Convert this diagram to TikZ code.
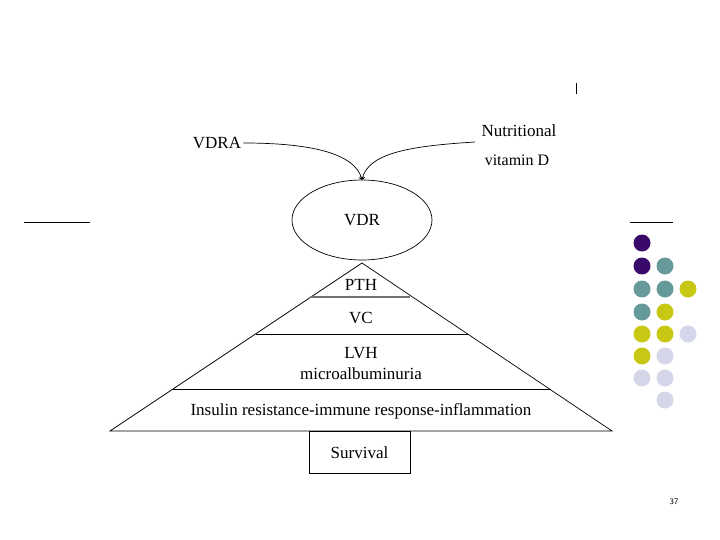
\documentclass[tikz,border=0pt]{standalone}
\usepackage{fontspec}
\setmainfont{Liberation Serif}
\usetikzlibrary{arrows.meta,shapes.geometric}
\definecolor{dpurple}{HTML}{3A0A6A}
\definecolor{dteal}{HTML}{669A9A}
\definecolor{dyellow}{HTML}{C8C814}
\definecolor{dlav}{HTML}{D6D6EA}
\tikzset{
  lbl/.style={font=\fontsize{17}{19}\selectfont, inner sep=0pt},
  rule/.style={line width=0.8pt},
  edge/.style={line width=0.7pt},
  dot/.style={circle, minimum size=17pt, inner sep=0pt, fill=#1}
}
\begin{document}
\begin{tikzpicture}[x=1pt,y=-1pt]
\useasboundingbox (0,0) rectangle (720,540);
% decorative rules
\coordinate (l1) at (24,222); \coordinate (l2) at (90,222);
\coordinate (r1) at (630,222); \coordinate (r2) at (673,222);
\draw[rule] (l1) -- (l2);
\draw[rule] (r1) -- (r2);
\coordinate (t1) at (576,83); \coordinate (t2) at (576,94);
\draw[line width=0.9pt] (t1) -- (t2);
% dots
\foreach \c/\x/\y in {dpurple/642/243, dpurple/642/266, dteal/665/266,
  dteal/642/289, dteal/665/289, dyellow/688/289,
  dteal/642/312, dyellow/665/312,
  dyellow/642/334, dyellow/665/334, dlav/688/334,
  dyellow/642/356, dlav/665/356,
  dlav/642/378, dlav/665/378,
  dlav/665/400}
  \node[dot=\c] at (\x,\y) {};
% top labels
\node[lbl] (vdra) at (217,143) {VDRA};
\node[lbl] (nut) at (519,131) {Nutritional};
\node[lbl, font=\fontsize{16}{18}\selectfont] (vitd) at (517,160) {vitamin D};
\node[draw, ellipse, edge, minimum width=140pt, minimum height=80pt, inner sep=0pt] (vdr) at (362,220) {};
\node[lbl] at (vdr) {VDR};
\coordinate (nutend) at (475,142);
\draw[edge, -{To[length=3pt,width=5pt]}] (vdra.east) ++(2,0) .. controls (310,143) and (355,153) .. (vdr.north);
\draw[edge, -{To[length=3pt,width=5pt]}] (nutend) .. controls (410,146) and (368,153) .. (vdr.north);
% pyramid
\coordinate (apex) at (362,263);
\coordinate (bl) at (110,431);
\coordinate (br) at (612,431);
\draw[edge] (bl) -- (apex) -- (br) -- cycle;
\coordinate (p1) at (310,297); \coordinate (p2) at (410,297);
\draw[line width=1.3pt, black!55] (p1) -- (p2);
\coordinate (v1) at (256,334); \coordinate (v2) at (468,334);
\draw[edge] (v1) -- (v2);
\coordinate (m1) at (173,389); \coordinate (m2) at (551,389);
\draw[edge] (m1) -- (m2);
\node[lbl] (pth) at (361,285) {PTH};
\node[lbl] (vc) at (361,318) {VC};
\node[lbl] (lvh) at (361,353) {LVH};
\node[lbl] (micro) at (361,374) {microalbuminuria};
\node[lbl] (ins) at (361,411) {Insulin resistance-immune response-inflammation};
\node[draw, edge, minimum width=101pt, minimum height=42pt, inner sep=0pt, anchor=north] (surv) at (359.5,431) {};
\node[lbl] at (surv) {Survival};
\node[font=\sffamily\fontsize{8.5}{9}\selectfont, inner sep=0pt] (pg) at (674,502) {37};
\end{tikzpicture}
\end{document}
